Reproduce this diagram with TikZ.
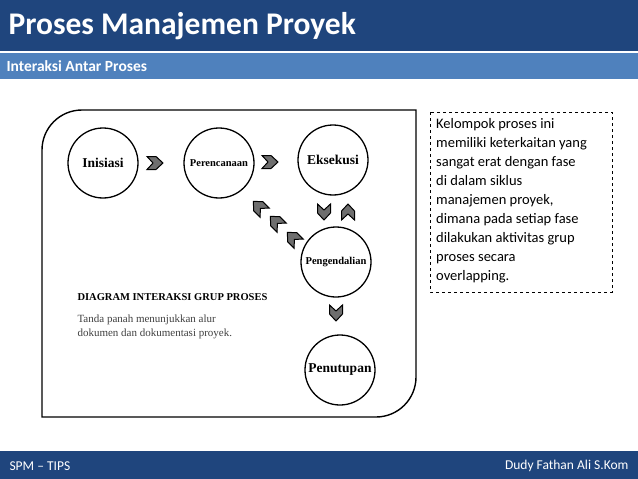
\documentclass[tikz,border=0pt]{standalone}
\usepackage{fontspec}
\setmainfont{Carlito}
\newfontfamily\diagfont{Liberation Serif}
\definecolor{slideBlue}{RGB}{31, 69, 125}
\definecolor{slideLightBlue}{RGB}{79, 129, 189}
\definecolor{chevGray}{RGB}{110, 110, 110}
\tikzset{
  phase/.style={draw=black, line width=1.3pt, circle, minimum size=70pt, inner sep=0pt, font=\diagfont\bfseries},
  chev/.pic={\draw[fill=chevGray, line width=1pt, line join=miter] (-8,-6.5) -- (1,-6.5) -- (8,0) -- (1,6.5) -- (-8,6.5) -- (-2,0) -- cycle;}
}
\begin{document}
\begin{tikzpicture}[x=1pt, y=-1pt]
  \useasboundingbox (0,0) rectangle (638,479);
  % Header bars
  \fill[slideBlue] (0,0) rectangle (638,51);
  \fill[slideLightBlue] (0,53) rectangle (638,79);
  \fill[slideBlue] (0,451) rectangle (638,479);
  \node[anchor=west, text=white, font=\fontsize{31.5}{34}\selectfont\bfseries] (title) at (5,26) {Proses Manajemen Proyek};
  \node[anchor=west, text=white, font=\fontsize{15.5}{18}\selectfont\bfseries] (subtitle) at (3,66) {Interaksi Antar Proses};
  \node[anchor=west, text=white, font=\fontsize{13.5}{16}\selectfont] (footL) at (6,466) {SPM -- TIPS};
  \node[anchor=east, text=white, font=\fontsize{13.5}{16}\selectfont] (footR) at (632,466) {Dudy Fathan Ali S.Kom};

  % Diagram frame
  \draw[line width=1.4pt] (42,417) -- (42,150) arc[start angle=180, end angle=270, radius=40] -- (416,110) -- (416,377) arc[start angle=0, end angle=90, radius=40] -- cycle;

  % Phase circles
  \node[phase, font=\diagfont\bfseries\fontsize{13.5}{16}\selectfont] (ini) at (103,163) {Inisiasi};
  \node[phase, font=\diagfont\bfseries\fontsize{10.5}{12}\selectfont] (per) at (219,163) {Perencanaan};
  \node[phase, font=\diagfont\bfseries\fontsize{13.5}{16}\selectfont] (eks) at (333,160) {Eksekusi};
  \node[phase, font=\diagfont\bfseries\fontsize{10.5}{12}\selectfont] (pen) at (336,262) {Pengendalian};
  \node[phase, font=\diagfont\bfseries\fontsize{13.5}{16}\selectfont] (tut) at (340,370) {Penutupan};

  % Chevrons
  \pic at (155,163) {chev};
  \pic at (270,162) {chev};
  \pic[rotate=-90] at (324,212) {chev};
  \pic[rotate=90] at (348,212) {chev};
  \pic[rotate=135] at (259,207) {chev};
  \pic[rotate=135] at (276,222) {chev};
  \pic[rotate=135] at (293,238) {chev};
  \pic[rotate=-90] at (336,313) {chev};

  % Legend
  \node[anchor=west, font=\diagfont\bfseries\fontsize{10.5}{12}\selectfont] (legtitle) at (74,297) {DIAGRAM INTERAKSI GRUP PROSES};
  \node[anchor=north west, align=left, text=black!75, font=\diagfont\fontsize{11}{14}\selectfont] (legtext) at (74,311) {Tanda panah menunjukkan alur\\dokumen dan dokumentasi proyek.};

  % Note box
  \draw[dashed, line width=0.6pt] (430,112) rectangle (612,292);
  \node[anchor=north west, align=left, inner sep=0pt, font=\fontsize{14.5}{19}\selectfont] (note) at (436,118) {Kelompok proses ini\\memiliki keterkaitan yang\\sangat erat dengan fase\\di dalam siklus\\manajemen proyek,\\dimana pada setiap fase\\dilakukan aktivitas grup\\proses secara\\overlapping.};
\end{tikzpicture}
\end{document}
